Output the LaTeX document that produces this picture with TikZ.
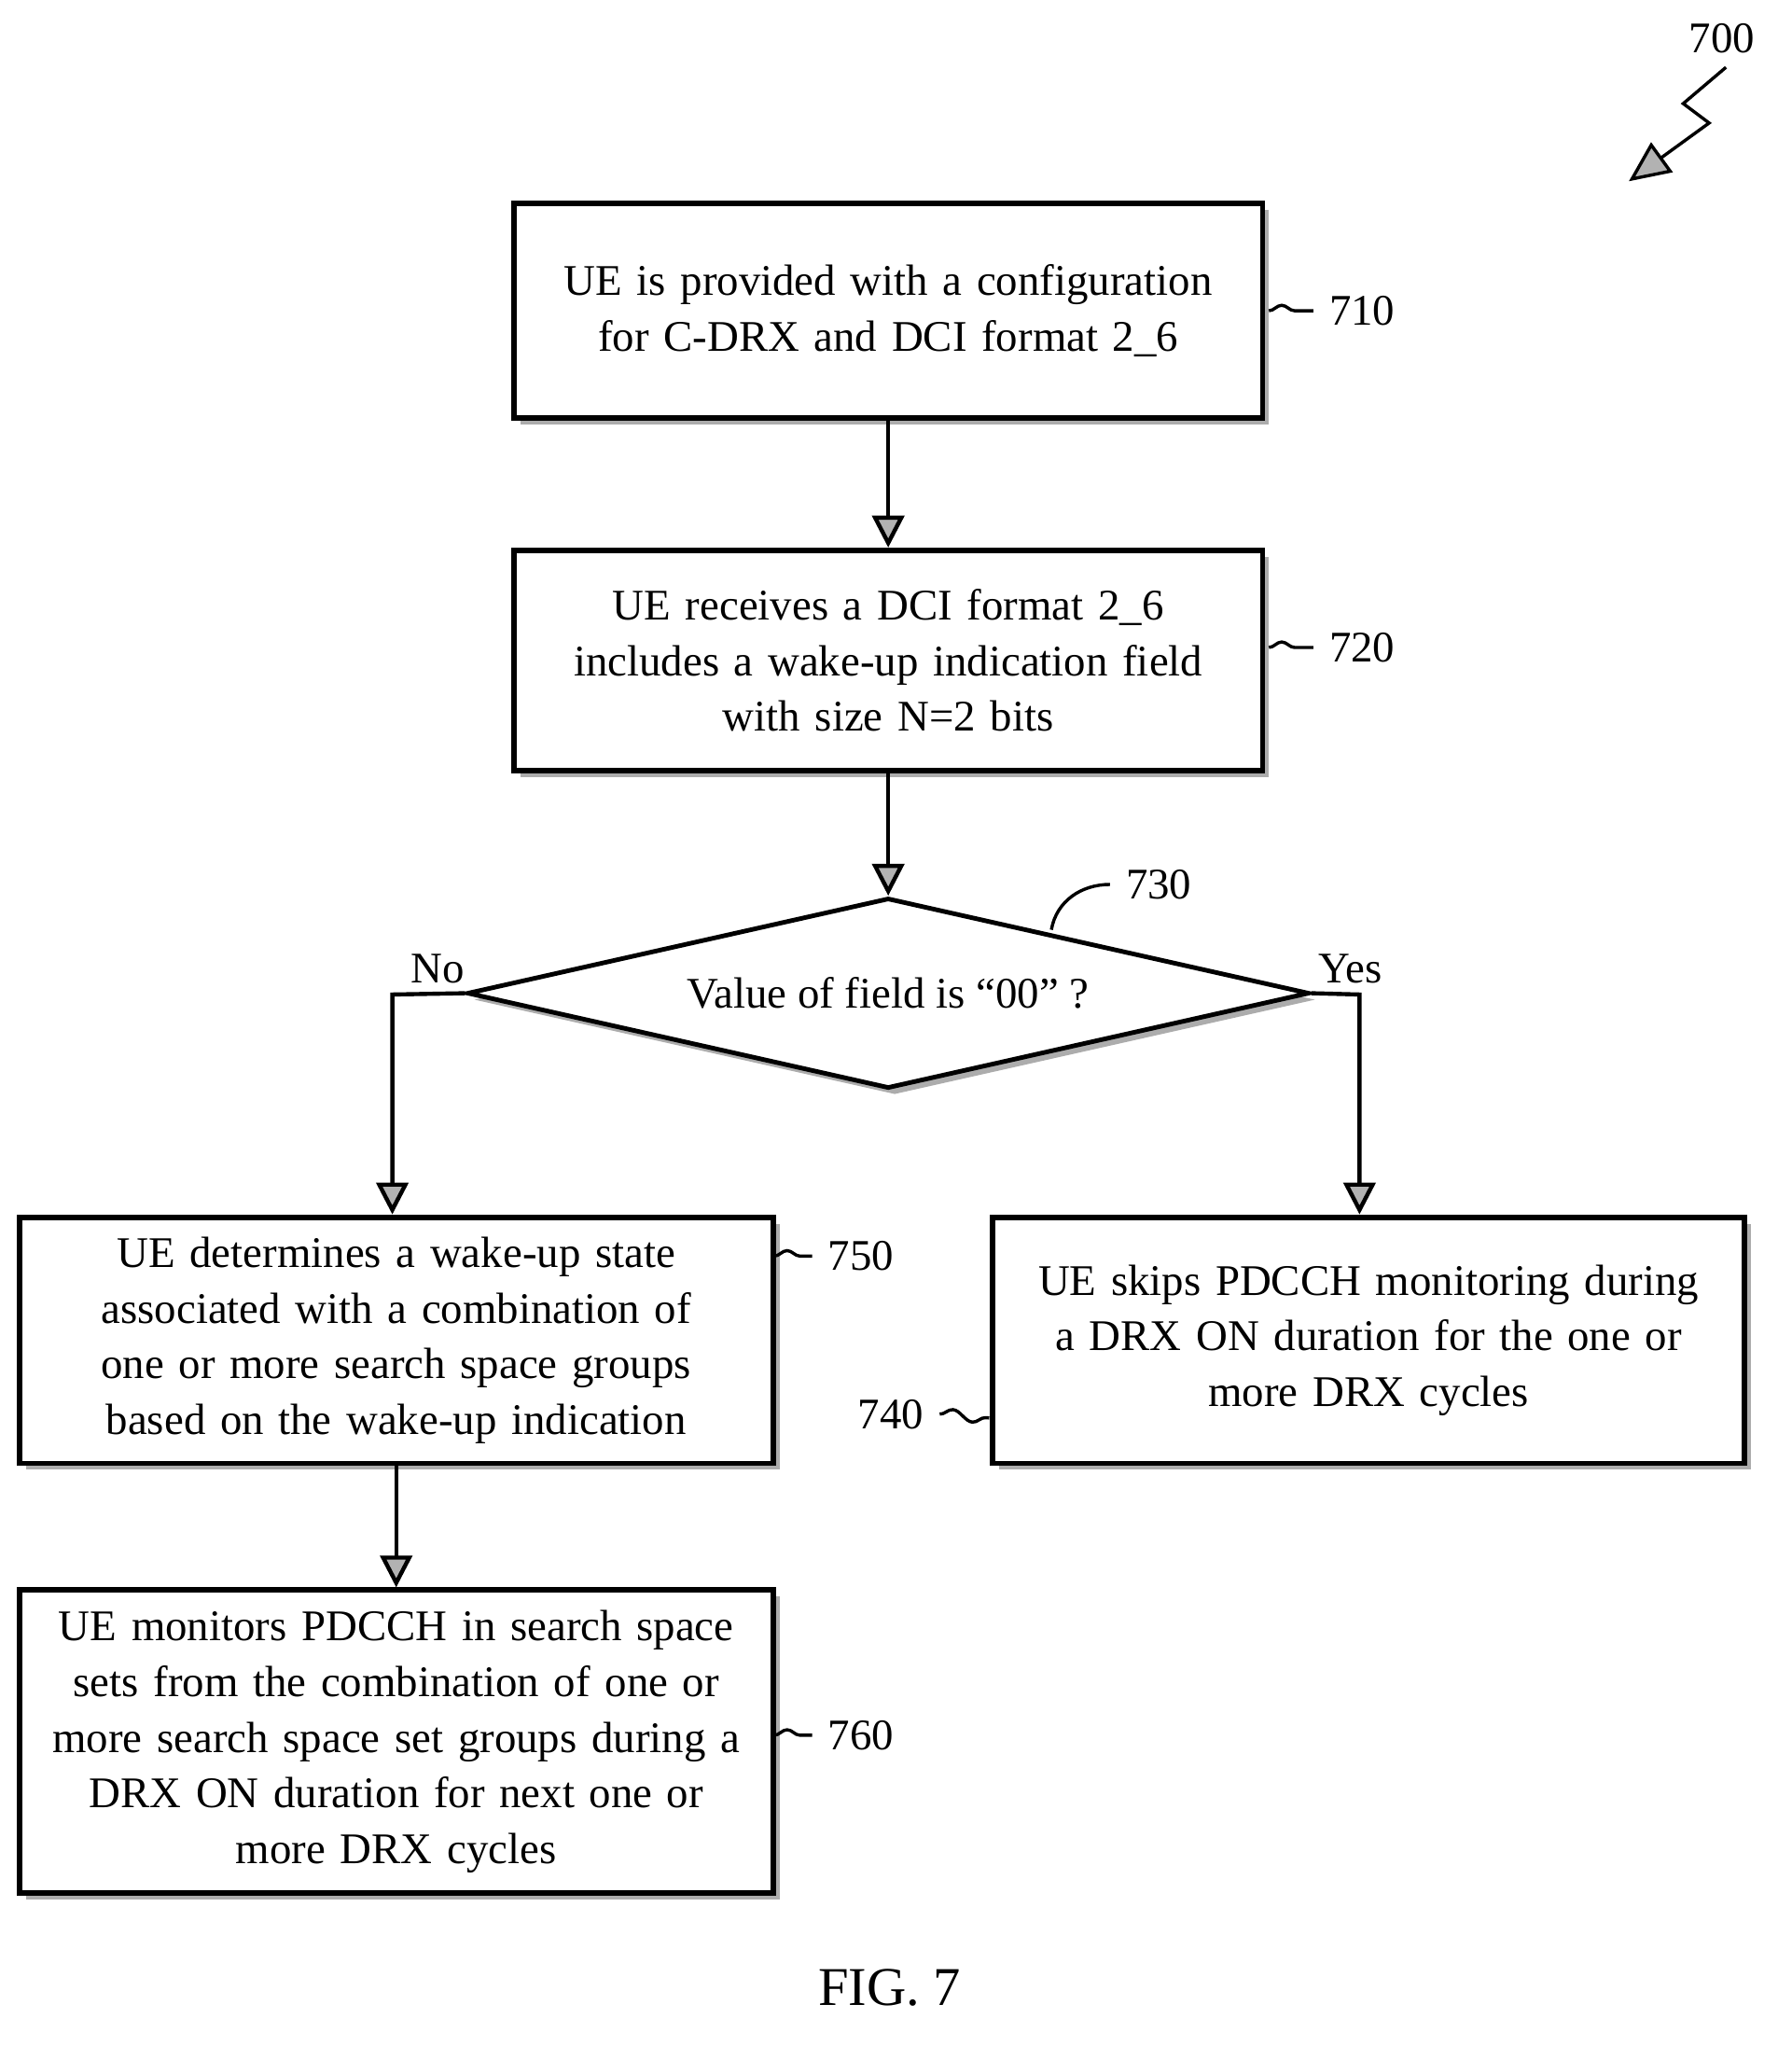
\documentclass[tikz,border=0pt]{standalone}
\usepackage{fontspec}
\setmainfont{Liberation Serif}
\usetikzlibrary{shapes.geometric,arrows.meta,decorations.pathmorphing}
\begin{document}
\begin{tikzpicture}[x=0.01cm,y=-0.01cm,
 shad/.style={preaction={fill=gray!65,transform canvas={shift={(0.05cm,-0.05cm)}}}},
 box/.style={draw,line width=1.2pt,fill=white,align=center,font=\fontsize{9.6}{12.2}\selectfont,inner sep=0pt,shad},
 lbl/.style={font=\fontsize{9.6}{12}\selectfont},
 arr/.style={line width=0.9pt,-{Triangle[length=7pt,width=7pt,fill=gray!60]}},
 tl/.style={line width=0.7pt,decorate,decoration={snake,amplitude=1.2pt,segment length=9pt}}]
\useasboundingbox (0,0) rectangle (1384,1580);
\node[box,minimum width=5.78cm,minimum height=1.66cm,text width=5.4cm] (b710) at (686,240) {UE is provided with a configuration\\for C-DRX and DCI format 2\_6};
\node[box,minimum width=5.78cm,minimum height=1.70cm,text width=5.4cm] (b720) at (686,510) {UE receives a DCI format 2\_6\\includes a wake-up indication field\\with size N=2 bits};
\node[draw,line width=1pt,diamond,aspect=4.5,minimum width=6.5cm,minimum height=1.47cm,inner sep=0pt,font=\fontsize{9.6}{12}\selectfont,shad,fill=white] (d730) at (686,767) {Value of field is ``00'' ?};
\node[box,minimum width=5.82cm,minimum height=1.90cm,text width=5.6cm] (b750) at (306,1035) {UE determines a wake-up state\\associated with a combination of\\one or more search space groups\\based on the wake-up indication};
\node[box,minimum width=5.80cm,minimum height=1.90cm,text width=5.6cm] (b740) at (1057,1035) {UE skips PDCCH monitoring during\\a DRX ON duration for the one or\\more DRX cycles};
\node[box,minimum width=5.82cm,minimum height=2.34cm,text width=5.7cm] (b760) at (306,1345) {UE monitors PDCCH in search space\\sets from the combination of one or\\more search space set groups during a\\DRX ON duration for next one or\\more DRX cycles};
\draw[arr] (b710.south) -- (b720.north);
\draw[arr] (b720.south) -- (d730.north);
\coordinate (nl) at (303,768); \coordinate (yr) at (1050,768);
\draw[arr] (d730.west) -- (nl) -- (b750.north -| nl);
\draw[arr] (d730.east) -- (yr) -- (b740.north -| yr);
\draw[arr] (b750.south) -- (b760.north);
\node[lbl] (no) at (338,748) {No};
\node[lbl] (yes) at (1043,748) {Yes};
\node[lbl] (l710) at (1052,240) {710};
\node[lbl] (l720) at (1052,500) {720};
\node[lbl] (l730) at (895,683) {730};
\node[lbl] (l750) at (665,970) {750};
\node[lbl] (l740) at (688,1092) {740};
\node[lbl] (l760) at (665,1340) {760};
\node[lbl] (l700) at (1330,30) {700};
\node[font=\fontsize{12}{14}\selectfont] (fig) at (687,1535) {FIG. 7};
\coordinate (t710) at (980,240); \coordinate (t720) at (980,500);
\coordinate (t750) at (598,970); \coordinate (t760) at (598,1340);
\coordinate (t740) at (764,1095);
\draw[tl] (t710) -- (l710.west);
\draw[tl] (t720) -- (l720.west);
\draw[tl] (t750) -- (l750.west);
\draw[tl] (t760) -- (l760.west);
\draw[tl] (l740.east) -- (t740);
\coordinate (t730) at (812,718);
\draw[line width=0.7pt] (t730) to[out=80,in=180] (l730.west);
\coordinate (s1) at (1333,52); \coordinate (s2) at (1300,80); \coordinate (s3) at (1320,95);
\coordinate (a700) at (1258,140);
\draw[line width=0.7pt,-{Triangle[length=9pt,width=8pt,fill=gray!60]}] (s1) -- (s2) -- (s3) -- (a700);
\end{tikzpicture}
\end{document}
